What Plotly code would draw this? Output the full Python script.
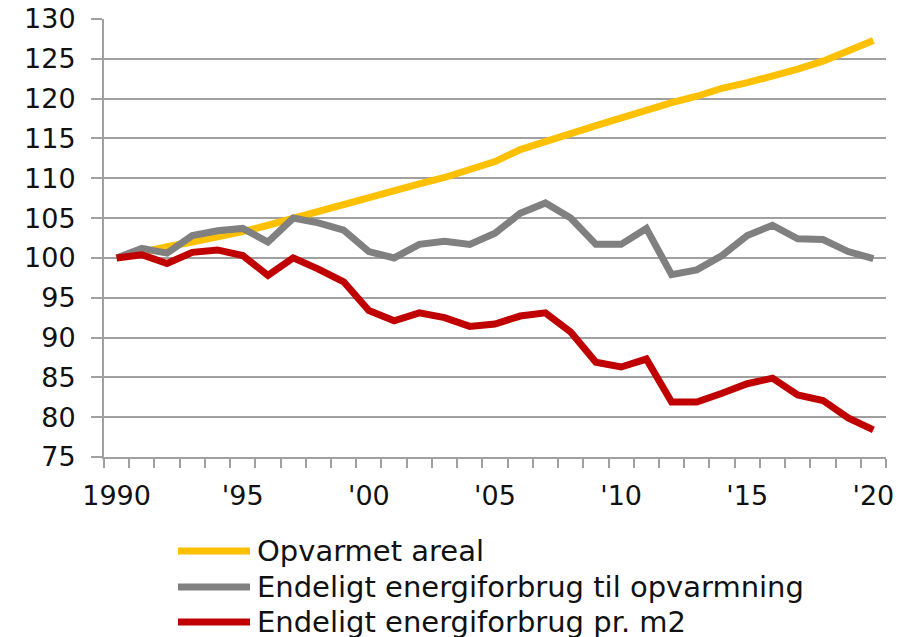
import plotly.graph_objects as go

years = list(range(1990, 2021))

series_names = [
    "Opvarmet areal",
    "Endeligt energiforbrug til opvarmning",
    "Endeligt energiforbrug pr. m2",
]

opvarmet_areal = [100.0, 100.8, 101.4, 102.0, 102.6, 103.3, 104.1, 105.0, 105.8, 106.8,
                  107.7, 108.5, 109.3, 110.1, 111.1, 112.1, 113.6, 114.7, 115.6, 116.6,
                  117.6, 118.6, 119.5, 120.3, 121.3, 122.0, 122.8, 123.7, 124.7, 126.0,
                  127.3]

energi_opvarmning = [100.0, 101.2, 100.6, 102.8, 103.4, 103.7, 102.0, 105.0, 104.4, 103.5,
                     100.8, 100.0, 101.7, 102.1, 101.7, 103.1, 105.6, 106.9, 105.0, 101.7,
                     101.7, 103.7, 97.9, 98.5, 100.3, 102.8, 104.1, 102.4, 102.3, 100.8,
                     99.9]

energi_pr_m2 = [100.0, 100.4, 99.3, 100.7, 101.0, 100.3, 97.8, 100.0, 98.6, 97.0,
                93.4, 92.1, 93.1, 92.5, 91.4, 91.7, 92.7, 93.1, 90.7, 86.9,
                86.3, 87.3, 81.9, 81.9, 83.0, 84.2, 84.9, 82.8, 82.1, 79.9,
                78.4]

x_tick_vals = [1990, 1995, 2000, 2005, 2010, 2015, 2020]
x_tick_text = ["1990", "'95", "'00", "'05", "'10", "'15", "'20"]
y_tick_vals = list(range(75, 131, 5))

colors = ["#FFC000", "#808080", "#C00000"]
FONT = "DejaVu Sans"
GRID = "#A0A0A0"

fig = go.Figure()
for name, vals, col in zip(series_names, [opvarmet_areal, energi_opvarmning, energi_pr_m2], colors):
    fig.add_trace(go.Scatter(
        x=years, y=vals, name=name, mode="lines",
        line=dict(color=col, width=7),
        showlegend=False, hoverinfo="x+y+name",
    ))

# custom legend (long line samples like the original)
L, R, T, B = 104, 36, 19, 180
W, H = 922, 637
pw, ph = W - L - R, H - T - B

def px_to_paper_x(px):
    return (px - L) / pw

def px_to_paper_y(py):
    return (H - B - py) / ph

legend_rows = [551, 587, 622]
shapes = []
annotations = []
for name, col, ry in zip(series_names, colors, legend_rows):
    shapes.append(dict(type="line", xref="paper", yref="paper",
                       x0=px_to_paper_x(178), x1=px_to_paper_x(250),
                       y0=px_to_paper_y(ry), y1=px_to_paper_y(ry),
                       line=dict(color=col, width=7)))
    annotations.append(dict(xref="paper", yref="paper",
                            x=px_to_paper_x(255), y=px_to_paper_y(ry),
                            xanchor="left", yanchor="middle", showarrow=False,
                            text=name, font=dict(family=FONT, size=29, color="#111111")))

fig.update_layout(
    width=W, height=H,
    margin=dict(l=L, r=R, t=T, b=B, autoexpand=False),
    paper_bgcolor="white", plot_bgcolor="white",
    shapes=shapes, annotations=annotations,
    showlegend=False,
    xaxis=dict(
        range=[1989.5, 2020.5], automargin=False,
        tickmode="array", tickvals=x_tick_vals, ticktext=x_tick_text,
        ticks="", showgrid=False, zeroline=False,
        showline=True, linecolor=GRID, linewidth=2,
        tickfont=dict(family=FONT, size=27, color="#111111"),
        ticklabelstandoff=14,
        minor=dict(ticks="outside", tick0=1989.5, dtick=1, ticklen=9,
                   tickwidth=2, tickcolor=GRID, showgrid=False),
    ),
    yaxis=dict(
        range=[75, 130], automargin=False,
        tickmode="array", tickvals=y_tick_vals,
        ticks="outside", ticklen=11, tickwidth=2, tickcolor=GRID,
        showgrid=True, gridcolor=GRID, gridwidth=2,
        zeroline=False, showline=True, linecolor=GRID, linewidth=2,
        tickfont=dict(family=FONT, size=27, color="#111111"),
        ticklabelstandoff=10,
    ),
)

fig.write_html("out.html", config={"displayModeBar": False},
               post_script="document.body.style.margin='0';document.body.style.overflow='hidden';")
